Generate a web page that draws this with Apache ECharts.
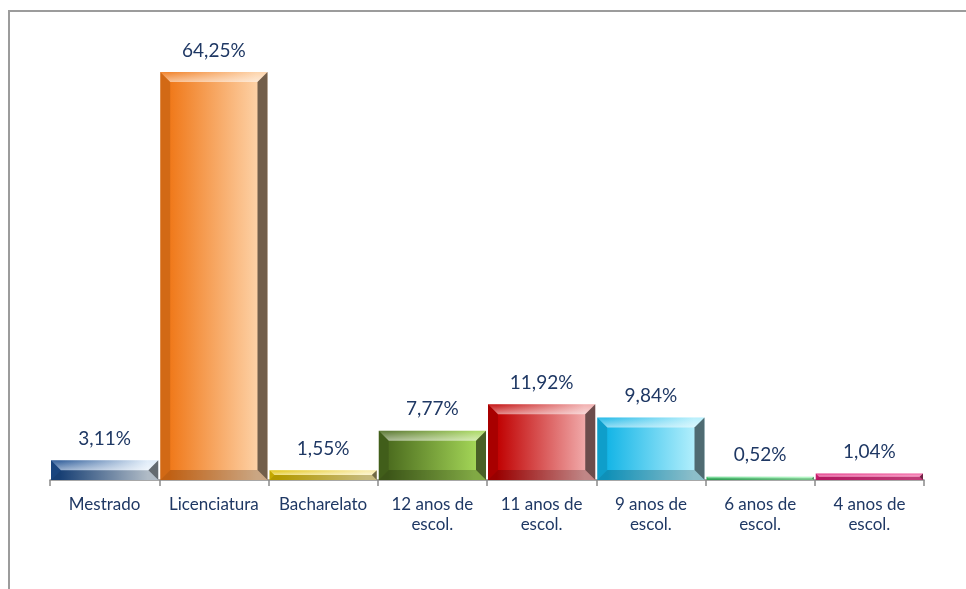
<!DOCTYPE html>
<html>
<head>
<meta charset="utf-8">
<script src="https://cdn.jsdelivr.net/npm/echarts@6/dist/echarts.min.js"></script>
<style>
  html, body { margin: 0; padding: 0; background: #fff; }
  #chart { width: 966px; height: 589px; }
</style>
</head>
<body>
<div id="chart"></div>
<script>
// habilitações - percentagens
var categories = ['Mestrado', 'Licenciatura', 'Bacharelato', '12 anos de\nescol.', '11 anos de\nescol.',
    '9 anos de\nescol.', '6 anos de\nescol.', '4 anos de\nescol.'];
var values = [3.11, 64.25, 1.55, 7.77, 11.92, 9.84, 0.52, 1.04];

// cor escura, cor clara por barra
var barColors = [
    ['#1d4f91', '#dceaf8'],
    ['#f07818', '#fdd0a4'],
    ['#e0c000', '#f8e89a'],
    ['#4b6b1e', '#a2d456'],
    ['#c00000', '#f0a8a8'],
    ['#12b4e6', '#b0eefc'],
    ['#3cc86a', '#8cf0a6'],
    ['#e0207a', '#f04c96']
];

var textColor = '#1f3864';

function fmt(v) {
    return v.toFixed(2).replace('.', ',') + '%';
}

function renderBar(params, api) {
    var idx = api.value(0);
    var val = api.value(1);
    var top = api.coord([idx, val]);
    var base = api.coord([idx, 0]);
    var w = api.size([1, 0])[0] - 2;
    var x = top[0] - w / 2;
    var y = top[1];
    var h = base[1] - top[1];
    var b = Math.min(10, h / 2);
    var c = barColors[idx];
    return {
        type: 'group',
        children: [
            {
                type: 'rect',
                shape: { x: x, y: y, width: w, height: h },
                style: {
                    fill: new echarts.graphic.LinearGradient(0, 0, 1, 0, [
                        { offset: 0, color: c[0] },
                        { offset: 0.08, color: c[0] },
                        { offset: 0.9, color: c[1] },
                        { offset: 1, color: c[1] }
                    ])
                }
            },
            { // bisel de cima
                type: 'polygon',
                shape: { points: [[x, y], [x + w, y], [x + w - b, y + b], [x + b, y + b]] },
                style: {
                    fill: new echarts.graphic.LinearGradient(0, 0, 0, 1, [
                        { offset: 0, color: 'rgba(255,255,255,0.1)' },
                        { offset: 1, color: 'rgba(255,255,255,0.55)' }
                    ])
                }
            },
            { // bisel de baixo
                type: 'polygon',
                shape: { points: [[x, y + h], [x + w, y + h], [x + w - b, y + h - b], [x + b, y + h - b]] },
                style: { fill: 'rgba(0,0,0,0.2)' }
            },
            { // bisel esquerdo
                type: 'polygon',
                shape: { points: [[x, y], [x + b, y + b], [x + b, y + h - b], [x, y + h]] },
                style: { fill: 'rgba(0,0,0,0.12)' }
            },
            { // bisel direito
                type: 'polygon',
                shape: { points: [[x + w, y], [x + w - b, y + b], [x + w - b, y + h - b], [x + w, y + h]] },
                style: { fill: 'rgba(0,0,0,0.55)' }
            },
            {
                type: 'text',
                style: {
                    x: top[0],
                    y: y - 12,
                    text: fmt(val),
                    align: 'center',
                    verticalAlign: 'bottom',
                    fill: textColor,
                    fontFamily: 'Lato',
                    fontSize: 19
                }
            }
        ]
    };
}

var myChart = echarts.init(document.getElementById('chart'));
var option = {
    backgroundColor: '#fff',
    animation: false,
    graphic: [{
        type: 'rect',
        shape: { x: 9, y: 11, width: 1000, height: 1000 },
        style: { fill: 'none', stroke: '#9c9c9c', lineWidth: 2 },
        silent: true
    }],
    grid: { left: 50, right: 42, top: 35.5, bottom: 109 },
    xAxis: {
        type: 'category',
        data: categories,
        axisLine: { lineStyle: { color: '#8a8a8a', width: 1.5 } },
        axisTick: { show: true, length: 6, lineStyle: { color: '#8a8a8a', width: 1.5 } },
        axisLabel: {
            color: textColor,
            fontFamily: 'Lato',
            fontSize: 17,
            lineHeight: 20,
            margin: 15,
            interval: 0
        }
    },
    yAxis: {
        type: 'value',
        min: 0,
        max: 70,
        show: false
    },
    series: [{
        type: 'custom',
        renderItem: renderBar,
        encode: { x: 0, y: 1 },
        data: values.map(function (v, i) { return [i, v]; })
    }]
};
myChart.setOption(option);
</script>
</body>
</html>
